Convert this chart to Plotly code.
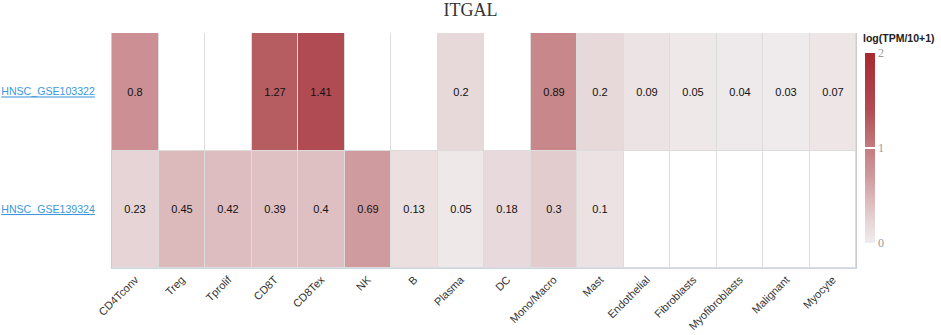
import plotly.graph_objects as go

cell_types = ["CD4Tconv", "Treg", "Tprolif", "CD8T", "CD8Tex", "NK", "B", "Plasma", "DC",
              "Mono/Macro", "Mast", "Endothelial", "Fibroblasts", "Myofibroblasts", "Malignant", "Myocyte"]
datasets = ["HNSC_GSE103322", "HNSC_GSE139324"]
gse103322 = [0.8, None, None, 1.27, 1.41, None, None, 0.2, None, 0.89, 0.2, 0.09, 0.05, 0.04, 0.03, 0.07]
gse139324 = [0.23, 0.45, 0.42, 0.39, 0.4, 0.69, 0.13, 0.05, 0.18, 0.3, 0.1, None, None, None, None, None]
cbar_ticks = [0, 1, 2]

rows = [gse103322, gse139324]
z = [[v if v is not None else float("nan") for v in r] for r in rows]
txt = [["" if v is None else f"{v:g}" for v in r] for r in rows]
mask = [[1 if v is None else float("nan") for v in r] for r in rows]

colorscale = [
    [0.0, "#f0edee"],
    [0.05, "#ece2e3"],
    [0.1, "#e7d8da"],
    [0.2, "#dfc0c2"],
    [0.35, "#cf9a9d"],
    [0.45, "#c8868a"],
    [0.635, "#b65d62"],
    [0.705, "#b14b53"],
    [1.0, "#a82a30"],
]

fig = go.Figure()
fig.add_trace(go.Heatmap(
    x=cell_types, y=datasets, z=mask, colorscale=[[0, "#ffffff"], [1, "#ffffff"]],
    showscale=False, xgap=1, ygap=1, hoverinfo="skip"))
fig.add_trace(go.Heatmap(
    x=cell_types, y=datasets, z=z, text=txt, texttemplate="%{text}",
    textfont=dict(family="Arial", size=11, color="#111111"),
    colorscale=colorscale, zmin=0, zmax=2, xgap=1, ygap=1,
    colorbar=dict(
        x=1.012, xanchor="left", xpad=0, thickness=10, len=0.894, y=0.51, yanchor="middle",
        outlinewidth=0, tickvals=cbar_ticks, ticks="inside", ticklen=10, tickcolor="#ffffff",
        tickwidth=2, tickfont=dict(family="Liberation Serif", size=12, color="#999999"),
    )))

fig.update_layout(
    width=941, height=335,
    margin=dict(l=112, r=85, t=33, b=67),
    paper_bgcolor="white", plot_bgcolor="#dcdcdc",
    title=dict(text="ITGAL", x=0.5, xanchor="center", y=0.972, yanchor="middle", yref="container",
               font=dict(family="Liberation Serif", size=18, color="#333333")),
    annotations=[dict(text="<b>log(TPM/10+1)</b>", xref="paper", yref="paper", x=1.007, y=0.979,
                      xanchor="left", yanchor="middle", showarrow=False,
                      font=dict(family="Arial", size=10.5, color="#222222"))],
)
fig.update_xaxes(tickangle=-45, tickfont=dict(family="Arial", size=11, color="#333333"),
                 showline=True, linecolor="#ccd6eb", linewidth=1, mirror=False, showgrid=False,
                 ticks="", zeroline=False, automargin=False)
fig.update_yaxes(autorange="reversed",
                 tickvals=datasets,
                 ticktext=[f'<span style="text-decoration:underline">{d}</span>' for d in datasets],
                 tickfont=dict(family="Arial", size=10.6, color="#3e97dc"),
                 ticklabelstandoff=14, showline=True, linecolor="#cccccc", mirror=True,
                 showgrid=False, ticks="", zeroline=False, automargin=False)

fig.write_html("out.html", config={"displayModeBar": False},
               post_script="document.body.style.margin='0';")
